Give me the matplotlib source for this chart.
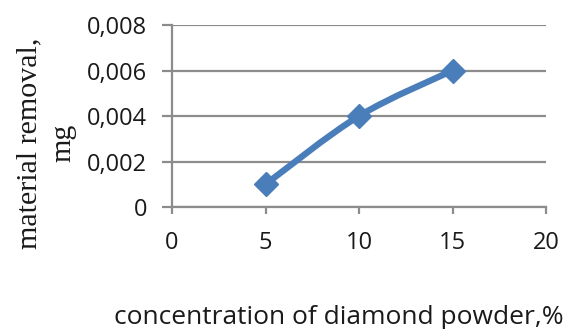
import numpy as np
import matplotlib
matplotlib.use("Agg")
import matplotlib.pyplot as plt
from matplotlib.path import Path
from matplotlib.patches import PathPatch
from matplotlib.ticker import FixedLocator, FuncFormatter

# Measured removal vs. diamond powder concentration
concentration = [5, 10, 15]
removal = [0.001, 0.004, 0.006]

x_ticks = [0, 5, 10, 15, 20]
y_ticks = [0, 0.002, 0.004, 0.006, 0.008]

line_color = "#4A7EBB"
grid_color = "#8C8C8C"

fig = plt.figure(figsize=(5.8, 3.29), dpi=100)
ax = fig.add_axes([0.2966, 0.3708, 0.9414 - 0.2966, 0.924 - 0.3708])

ax.set_xlim(0, 20)
ax.set_ylim(0, 0.008)
ax.xaxis.set_major_locator(FixedLocator(x_ticks))
ax.yaxis.set_major_locator(FixedLocator(y_ticks))
ax.yaxis.set_major_formatter(FuncFormatter(
    lambda v, _: "0" if v == 0 else f"{v:.3f}".replace(".", ",")))

ax.grid(axis="y", color=grid_color, linewidth=1.6)
ax.set_axisbelow(True)
for s in ("top", "right"):
    ax.spines[s].set_visible(False)
for s in ("left", "bottom"):
    ax.spines[s].set_color(grid_color)
    ax.spines[s].set_linewidth(1.6)

ax.tick_params(axis="y", direction="out", length=7, width=1.6, color=grid_color,
               pad=11, labelsize=17, labelcolor="#1a1a1a")
ax.tick_params(axis="x", direction="out", length=5, width=1.6, color=grid_color,
               pad=12, labelsize=17, labelcolor="#1a1a1a")
for lab in ax.get_xticklabels() + ax.get_yticklabels():
    lab.set_fontfamily("Open Sans")

# Smoothed connecting line (Catmull-Rom style Bezier segments)
pts = np.column_stack([concentration, removal]).astype(float)
ext = np.vstack([pts[0], pts, pts[-1]])
verts = [tuple(pts[0])]
codes = [Path.MOVETO]
for i in range(1, len(ext) - 2):
    p0, p1, p2, p3 = ext[i - 1], ext[i], ext[i + 1], ext[i + 2]
    c1 = p1 + (p2 - p0) / 6.0
    c2 = p2 - (p3 - p1) / 6.0
    verts += [tuple(c1), tuple(c2), tuple(p2)]
    codes += [Path.CURVE4] * 3
ax.add_patch(PathPatch(Path(verts, codes), facecolor="none", edgecolor=line_color,
                       linewidth=4.6, capstyle="round", joinstyle="round", zorder=3))
ax.plot(concentration, removal, linestyle="none", marker="D", markersize=12.5,
        color=line_color, zorder=4, clip_on=False)

fig.text(46 / 580, 1 - 143 / 329, "material removal,\nmg", rotation=90,
         ha="center", va="center", multialignment="center",
         family="Liberation Serif", fontsize=21.6, linespacing=1.4, color="#1a1a1a")
fig.text(339 / 580, 1 - 317 / 329, "concentration of diamond powder,%",
         ha="center", va="center", family="Open Sans", fontsize=19.0, color="#1a1a1a")

fig.savefig("out.png", dpi=100)
